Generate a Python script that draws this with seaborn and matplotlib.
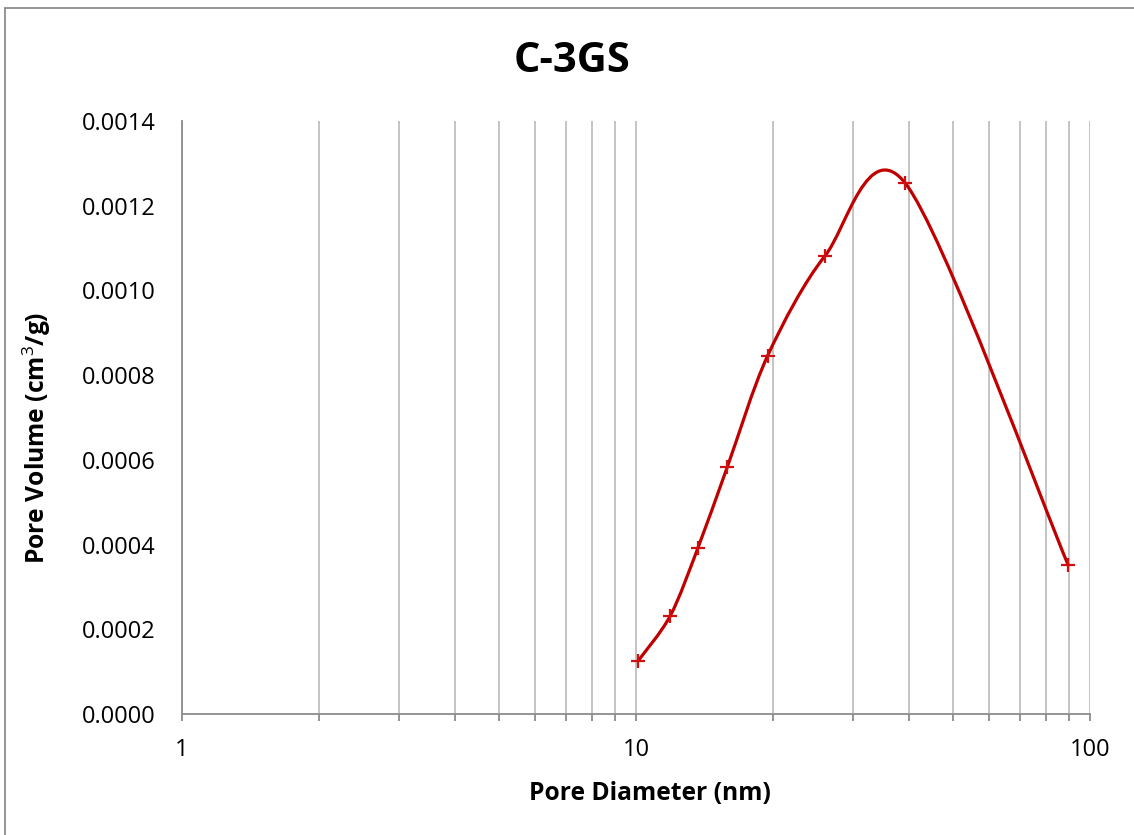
import numpy as np
import pandas as pd
import matplotlib
matplotlib.use("Agg")
import matplotlib.pyplot as plt
from matplotlib.path import Path
from matplotlib.patches import PathPatch
from matplotlib.lines import Line2D
from matplotlib.ticker import FixedLocator, NullFormatter, FixedFormatter
import seaborn as sns

# Pore size distribution, sample C-3GS
pore_diameter_nm = [10.1, 11.9, 13.7, 15.9, 19.5, 26.1, 39.2, 89.5]
pore_volume = [0.000125, 0.000232, 0.000393, 0.000584, 0.000846, 0.001082, 0.001253, 0.000352]

title = "C-3GS"
x_label = "Pore Diameter (nm)"
y_label = "Pore Volume (cm$^3$/g)"
x_ticks = [1, 10, 100]
y_ticks = [0.0, 0.0002, 0.0004, 0.0006, 0.0008, 0.0010, 0.0012, 0.0014]

sns.set_theme(style="white")
plt.rcParams["font.family"] = ["Open Sans", "DejaVu Sans"]
plt.rcParams["mathtext.fontset"] = "custom"
plt.rcParams["mathtext.rm"] = "Open Sans"
plt.rcParams["mathtext.bf"] = "Open Sans:bold"
plt.rcParams["text.color"] = "black"
plt.rcParams["axes.labelcolor"] = "black"

W, H = 1134, 835
fig = plt.figure(figsize=(W / 100, H / 100), dpi=100)
left, right, top, bottom = 182, 1090, 121, 714
ax = fig.add_axes([left / W, 1 - bottom / H, (right - left) / W, (bottom - top) / H])

df = pd.DataFrame({"d": pore_diameter_nm, "v": pore_volume})

ax.set_xscale("log")
ax.set_xlim(1, 100)
ax.set_ylim(0, 0.0014)

# Smoothed connecting curve: cubic Bezier segments built in screen-proportional space
px_per_decade = right - left
px_per_unit = (bottom - top) / 0.0014
P = np.column_stack([np.log10(df["d"]) * px_per_decade, df["v"] * px_per_unit])
n = len(P)
tension = 1 / 6.5
verts = [P[0]]
codes = [Path.MOVETO]
for i in range(n - 1):
    p_prev = P[i - 1] if i > 0 else P[i]
    p_next2 = P[i + 2] if i + 2 < n else P[i + 1]
    c1 = P[i] + (P[i + 1] - p_prev) * tension
    c2 = P[i + 1] - (p_next2 - P[i]) * tension
    verts += [c1, c2, P[i + 1]]
    codes += [Path.CURVE4] * 3
verts = np.array(verts)
data_verts = np.column_stack([10 ** (verts[:, 0] / px_per_decade), verts[:, 1] / px_per_unit])
curve = PathPatch(Path(data_verts, codes), facecolor="none", edgecolor="#C00000",
                  lw=2.3, transform=ax.transData, zorder=3, capstyle="round", joinstyle="round")
ax.add_patch(curve)

sns.scatterplot(data=df, x="d", y="v", marker="+", s=110, color="#D01010",
                linewidth=1.6, ax=ax, zorder=4, legend=False)

# Vertical grid at every decade subdivision
minor_positions = [m * 10 ** e for e in (0, 1) for m in range(2, 10)]
ax.xaxis.set_major_locator(FixedLocator(x_ticks))
ax.xaxis.set_major_formatter(FixedFormatter([str(t) for t in x_ticks]))
ax.xaxis.set_minor_locator(FixedLocator(minor_positions))
ax.xaxis.set_minor_formatter(NullFormatter())
grid_color = "#b4b4b4"
ax.grid(True, axis="x", which="both", color=grid_color, lw=1.1)
ax.grid(False, axis="y")

ax.set_yticks(y_ticks)
ax.set_yticklabels([f"{t:.4f}" for t in y_ticks])

for s in ("top", "right"):
    ax.spines[s].set_visible(False)
for s in ("left", "bottom"):
    ax.spines[s].set_color("#8c8c8c")
    ax.spines[s].set_linewidth(1.3)

ax.tick_params(axis="x", which="both", direction="out", length=5, width=1.3,
               color="#8c8c8c", labelsize=17, pad=12, bottom=True, labelcolor="black")
ax.tick_params(axis="y", which="both", length=0, labelsize=17, pad=19, left=False,
               labelcolor="black")

ax.set_xlabel(x_label, fontsize=17.7, fontweight="bold")
ax.set_ylabel(y_label, fontsize=17.7, fontweight="bold")
ax.xaxis.set_label_coords((650 - left) / (right - left), -(794 - bottom) / (bottom - top),
                          transform=ax.transAxes)
ax.xaxis.label.set_va("center")
ax.yaxis.set_label_coords(-(left - 37) / (right - left), (bottom - 438) / (bottom - top),
                          transform=ax.transAxes)
ax.yaxis.label.set_va("center")
fig.text(572 / W, 1 - 61 / H, title, fontsize=30, fontweight="bold",
         ha="center", va="center", color="black")

# Chart-area frame: only its top and left edges fall inside the canvas
frame_kw = dict(transform=fig.transFigure, color="#8c8c8c", lw=1.3)
fig.add_artist(Line2D([5 / W, 5 / W], [0, 1 - 8 / H], **frame_kw))
fig.add_artist(Line2D([5 / W, 1], [1 - 8 / H, 1 - 8 / H], **frame_kw))

fig.savefig("out.png", dpi=100)
